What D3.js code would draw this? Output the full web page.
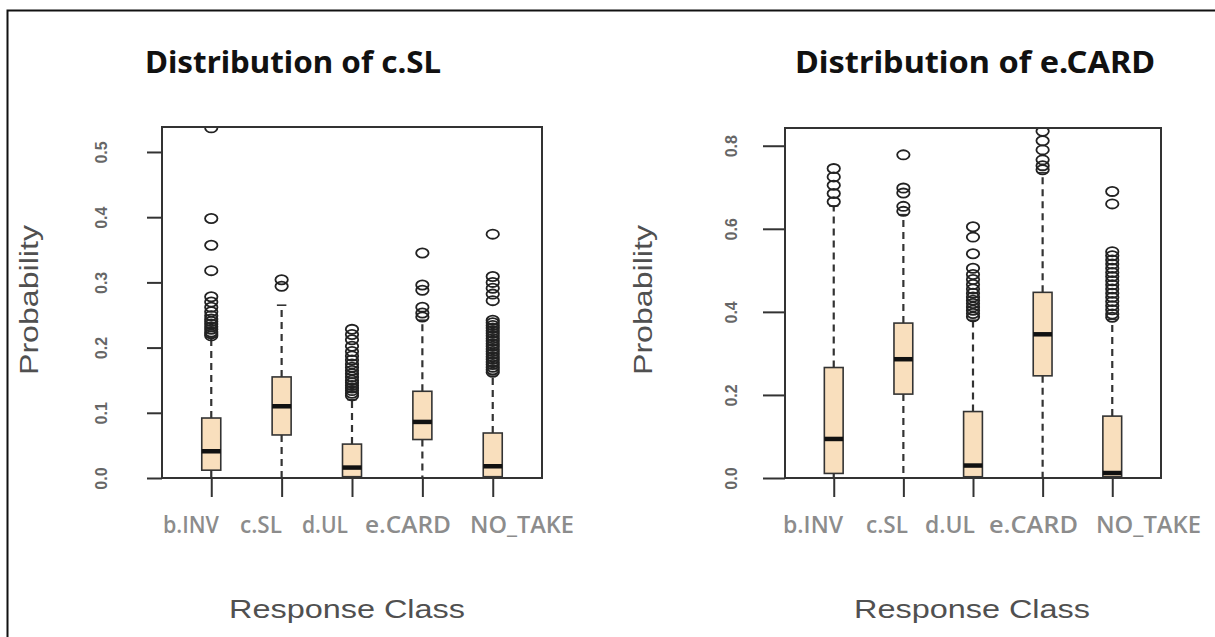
<!DOCTYPE html>
<html>
<head>
<meta charset="utf-8">
<script src="https://cdn.jsdelivr.net/npm/d3@7"></script>
<style>
  html, body { margin: 0; padding: 0; background: #fff; }
  svg { display: block; }
</style>
</head>
<body>
<svg id="chart" width="1215" height="637"></svg>
<script>
// ---------------- DATA ----------------
const categories = ["b.INV", "c.SL", "d.UL", "e.CARD", "NO_TAKE"];

// Panel 1: Distribution of c.SL
const slTicks   = [0.0, 0.1, 0.2, 0.3, 0.4, 0.5];
const slLower   = [0.000, 0.000, 0.000, 0.000, 0.000];
const slQ1      = [0.012, 0.066, 0.002, 0.059, 0.002];
const slMedian  = [0.041, 0.110, 0.016, 0.086, 0.018];
const slQ3      = [0.092, 0.155, 0.052, 0.133, 0.069];
const slUpper   = [0.216, 0.265, 0.120, 0.242, 0.158];
const slOutliers = [
  [0.537, 0.398, 0.357, 0.318, 0.278, 0.270, 0.262, 0.255, 0.249, 0.244, 0.240, 0.236, 0.232, 0.228, 0.224, 0.221, 0.218],
  [0.304, 0.294],
  [0.228, 0.220, 0.212, 0.202, 0.194, 0.187, 0.181, 0.175, 0.170, 0.165, 0.160, 0.155, 0.150, 0.146, 0.142, 0.138, 0.134, 0.130, 0.126],
  [0.345, 0.296, 0.288, 0.262, 0.253, 0.247],
  [0.374, 0.309, 0.300, 0.291, 0.282, 0.272, 0.242, 0.238, 0.234, 0.230, 0.226, 0.222, 0.218, 0.214, 0.210, 0.206, 0.202, 0.198, 0.194, 0.190, 0.186, 0.182, 0.178, 0.174, 0.170, 0.166, 0.162]
];

// Panel 2: Distribution of e.CARD
const cardTicks   = [0.0, 0.2, 0.4, 0.6, 0.8];
const cardLower   = [0.000, 0.000, 0.000, 0.000, 0.000];
const cardQ1      = [0.011, 0.202, 0.003, 0.246, 0.003];
const cardMedian  = [0.094, 0.286, 0.030, 0.346, 0.012];
const cardQ3      = [0.266, 0.373, 0.160, 0.447, 0.149];
const cardUpper   = [0.655, 0.634, 0.380, 0.735, 0.382];
const cardOutliers = [
  [0.745, 0.725, 0.705, 0.685, 0.665],
  [0.778, 0.698, 0.686, 0.654, 0.642],
  [0.605, 0.580, 0.540, 0.505, 0.490, 0.478, 0.466, 0.455, 0.445, 0.436, 0.428, 0.420, 0.412, 0.404, 0.396, 0.388],
  [0.835, 0.812, 0.790, 0.766, 0.752, 0.742],
  [0.690, 0.660, 0.545, 0.535, 0.525, 0.515, 0.505, 0.495, 0.485, 0.475, 0.465, 0.455, 0.445, 0.435, 0.425, 0.415, 0.405, 0.395, 0.387]
];

// ---------------- DRAW ----------------
const svg = d3.select("#chart");

// outer frame
svg.append("rect")
  .attr("x", 7.5).attr("y", 10.5).attr("width", 1240).attr("height", 700)
  .attr("fill", "none").attr("stroke", "#111").attr("stroke-width", 2);

const panels = [
  {
    id: "p1", title: "Distribution of c.SL", titleX: 145, titleW: 296,
    box: {x0: 162, x1: 542, y0: 127, y1: 478}, yMax: 0.5383,
    ticks: slTicks, tickFmt: d3.format(".1f"), tickLen: 15, labelOff: 55.5,
    lower: slLower, q1: slQ1, med: slMedian, q3: slQ3, upper: slUpper, out: slOutliers,
    ylabX: 38, xlabC: 347,
    catPos: [[163, 56], [240, 42], [302, 46], [365, 86], [470, 104]]
  },
  {
    id: "p2", title: "Distribution of e.CARD", titleX: 795, titleW: 360,
    box: {x0: 785, x1: 1161, y0: 128, y1: 478}, yMax: 0.8427,
    ticks: cardTicks, tickFmt: d3.format(".1f"), tickLen: 22, labelOff: 48,
    lower: cardLower, q1: cardQ1, med: cardMedian, q3: cardQ3, upper: cardUpper, out: cardOutliers,
    ylabX: 652, xlabC: 972,
    catPos: [[783, 60], [866, 42], [925, 50], [989, 89], [1096, 105]]
  }
];

panels.forEach(p => {
  const g = svg.append("g");
  const x = d3.scaleLinear().domain([0.3, 5.7]).range([p.box.x0, p.box.x1]);
  const y = d3.scaleLinear().domain([0, p.yMax]).range([p.box.y1, p.box.y0]);
  const bw = 0.27; // box width in x units
  const half = (x(1 + bw / 2) - x(1));

  // title
  g.append("text")
    .attr("x", p.titleX).attr("y", 73)
    .attr("textLength", p.titleW).attr("lengthAdjust", "spacingAndGlyphs")
    .attr("font-family", "'Noto Sans', 'Open Sans', sans-serif")
    .attr("font-weight", "bold").attr("font-size", 31).attr("fill", "#111")
    .text(p.title);

  // clip path
  g.append("clipPath").attr("id", "clip-" + p.id)
    .append("rect")
    .attr("x", p.box.x0).attr("y", p.box.y0)
    .attr("width", p.box.x1 - p.box.x0).attr("height", p.box.y1 - p.box.y0);

  const plot = g.append("g").attr("clip-path", `url(#clip-${p.id})`);

  categories.forEach((c, i) => {
    const cx = x(i + 1);
    // whiskers (dashed)
    plot.append("line")
      .attr("x1", cx).attr("x2", cx)
      .attr("y1", y(p.q3[i])).attr("y2", y(p.upper[i]))
      .attr("stroke", "#333").attr("stroke-width", 2.2).attr("stroke-dasharray", "7,5");
    plot.append("line")
      .attr("x1", cx).attr("x2", cx)
      .attr("y1", y(p.q1[i])).attr("y2", y(p.lower[i]))
      .attr("stroke", "#333").attr("stroke-width", 2.2).attr("stroke-dasharray", "7,5");
    // staples
    [p.upper[i], p.lower[i]].forEach(v => {
      plot.append("line")
        .attr("x1", cx - half / 2).attr("x2", cx + half / 2)
        .attr("y1", y(v)).attr("y2", y(v))
        .attr("stroke", "#333").attr("stroke-width", 1.6);
    });
    // box
    plot.append("rect")
      .attr("x", cx - half).attr("width", 2 * half)
      .attr("y", y(p.q3[i])).attr("height", y(p.q1[i]) - y(p.q3[i]))
      .attr("fill", "#F9DFBD").attr("stroke", "#333").attr("stroke-width", 1.6);
    // median
    plot.append("line")
      .attr("x1", cx - half).attr("x2", cx + half)
      .attr("y1", y(p.med[i])).attr("y2", y(p.med[i]))
      .attr("stroke", "#111").attr("stroke-width", 4.5);
    // outliers
    plot.selectAll(null).data(p.out[i]).enter().append("ellipse")
      .attr("cx", cx).attr("cy", d => y(d))
      .attr("rx", 6.2).attr("ry", 4.6)
      .attr("fill", "none").attr("stroke", "#222").attr("stroke-width", 1.8);
  });

  // frame
  g.append("rect")
    .attr("x", p.box.x0).attr("y", p.box.y0)
    .attr("width", p.box.x1 - p.box.x0).attr("height", p.box.y1 - p.box.y0)
    .attr("fill", "none").attr("stroke", "#333").attr("stroke-width", 2);

  // y axis
  const ya = g.append("g").attr("transform", `translate(${p.box.x0},0)`)
    .call(d3.axisLeft(y).tickValues(p.ticks).tickFormat(p.tickFmt).tickSize(p.tickLen));
  ya.select(".domain").remove();
  ya.selectAll(".tick line").attr("stroke", "#333").attr("stroke-width", 2);
  ya.selectAll(".tick text")
    .attr("x", null).attr("dy", null)
    .attr("transform", `translate(${-p.labelOff},0) rotate(-90)`)
    .attr("text-anchor", "middle")
    .attr("font-family", "'Liberation Sans', Arial, sans-serif")
    .attr("font-size", 16).attr("font-weight", "bold").attr("fill", "#666");

  // x axis ticks
  const xa = g.append("g").attr("transform", `translate(0,${p.box.y1})`)
    .call(d3.axisBottom(x).tickValues([1, 2, 3, 4, 5]).tickFormat("").tickSize(19));
  xa.select(".domain").remove();
  xa.selectAll(".tick line").attr("stroke", "#333").attr("stroke-width", 2);

  // category labels (gray, bold)
  categories.forEach((c, i) => {
    g.append("text")
      .attr("x", p.catPos[i][0]).attr("y", 533)
      .attr("textLength", p.catPos[i][1]).attr("lengthAdjust", "spacingAndGlyphs")
      .attr("font-family", "'Open Sans', 'Noto Sans', sans-serif")
      .attr("font-weight", 600).attr("font-size", 24).attr("fill", "#8c8c8c")
      .text(c);
  });

  // y label
  g.append("text")
    .attr("transform", `translate(${p.ylabX},300) rotate(-90)`)
    .attr("text-anchor", "middle")
    .attr("textLength", 150).attr("lengthAdjust", "spacingAndGlyphs")
    .attr("font-family", "'Liberation Sans', Arial, sans-serif")
    .attr("font-size", 25).attr("fill", "#505050")
    .text("Probability");

  // x label
  g.append("text")
    .attr("x", p.xlabC - 118).attr("y", 618)
    .attr("textLength", 236).attr("lengthAdjust", "spacingAndGlyphs")
    .attr("font-family", "'Liberation Sans', Arial, sans-serif")
    .attr("font-size", 26).attr("fill", "#505050")
    .text("Response Class");
});
</script>
</body>
</html>
